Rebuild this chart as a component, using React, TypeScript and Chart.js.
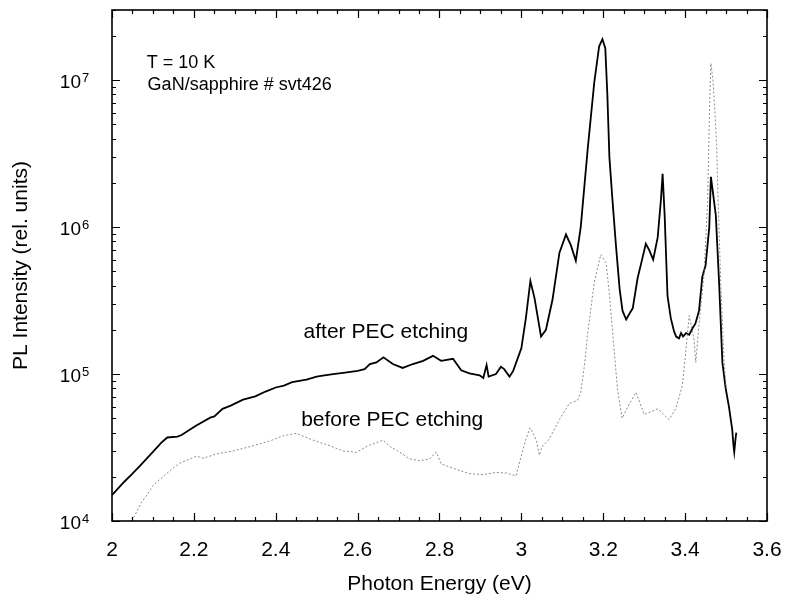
import React, { useEffect, useRef } from 'react';
import { Chart, registerables } from 'chart.js';

Chart.register(...registerables);

// ---- data ----
const afterEnergy = [
  2.0, 2.03, 2.05, 2.07, 2.1, 2.12, 2.135, 2.16, 2.17, 2.185, 2.205, 2.24, 2.25, 2.27, 2.29, 2.32,
  2.35, 2.375, 2.4, 2.42, 2.44, 2.475, 2.5, 2.515, 2.54, 2.565, 2.6, 2.617, 2.63, 2.646, 2.663,
  2.686, 2.71, 2.735, 2.76, 2.784, 2.804, 2.833, 2.853, 2.873, 2.898, 2.907, 2.915, 2.92, 2.938,
  2.95, 2.958, 2.971, 2.98, 3.0, 3.011, 3.022, 3.032, 3.048, 3.06, 3.076, 3.093, 3.109, 3.121,
  3.133, 3.145, 3.162, 3.178, 3.19, 3.198, 3.205, 3.21, 3.215, 3.222, 3.231, 3.24, 3.247, 3.256,
  3.265, 3.272, 3.284, 3.296, 3.304, 3.312, 3.322, 3.333, 3.341, 3.345, 3.35, 3.357, 3.365, 3.373,
  3.378, 3.385, 3.39, 3.395, 3.402, 3.41, 3.418, 3.425, 3.434, 3.442, 3.45, 3.459, 3.463, 3.467,
  3.475, 3.483, 3.491, 3.499, 3.507, 3.512, 3.515, 3.518, 3.52, 3.523, 3.525,
];
const afterIntensity = [
  1.5e4, 1.85e4, 2.1e4, 2.4e4, 2.95e4, 3.4e4, 3.7e4, 3.75e4, 3.85e4, 4.1e4, 4.45e4, 5.05e4, 5.15e4,
  5.8e4, 6.1e4, 6.7e4, 7.05e4, 7.6e4, 8.1e4, 8.35e4, 8.8e4, 9.15e4, 9.6e4, 9.75e4, 1.0e5, 1.02e5,
  1.05e5, 1.08e5, 1.17e5, 1.2e5, 1.3e5, 1.17e5, 1.1e5, 1.17e5, 1.23e5, 1.33e5, 1.23e5, 1.27e5,
  1.06e5, 1.01e5, 9.8e4, 9.4e4, 1.15e5, 9.6e4, 1.0e5, 1.12e5, 1.08e5, 9.6e4, 1.05e5, 1.5e5, 2.4e5,
  4.3e5, 3.3e5, 1.8e5, 2.0e5, 3.2e5, 6.7e5, 8.9e5, 7.5e5, 5.9e5, 1.0e6, 3.4e6, 9.6e6, 1.7e7, 1.9e7,
  1.65e7, 8.0e6, 3.0e6, 1.6e6, 7.5e5, 3.8e5, 2.7e5, 2.35e5, 2.6e5, 2.8e5, 4.5e5, 6.2e5, 7.7e5, 7.0e5,
  6.0e5, 8.5e5, 1.55e6, 2.3e6, 1.2e6, 3.4e5, 2.4e5, 1.95e5, 1.8e5, 1.75e5, 1.9e5, 1.8e5, 1.9e5,
  1.85e5, 2.05e5, 2.2e5, 2.7e5, 4.6e5, 5.5e5, 1.0e6, 2.2e6, 1.8e6, 1.2e6, 4.2e5, 1.2e5, 8.0e4, 6.0e4,
  4.8e4, 4.2e4, 3.3e4, 2.95e4, 3.6e4, 4.0e4,
];
const beforeEnergy = [
  2.048, 2.06, 2.072, 2.085, 2.1, 2.115, 2.129, 2.15, 2.166, 2.19, 2.207, 2.223, 2.255, 2.296, 2.345,
  2.385, 2.418, 2.45, 2.47, 2.491, 2.532, 2.564, 2.597, 2.625, 2.645, 2.662, 2.68, 2.698, 2.727,
  2.751, 2.776, 2.792, 2.804, 2.84, 2.873, 2.906, 2.938, 2.963, 2.987, 3.003, 3.011, 3.021, 3.03,
  3.037, 3.044, 3.05, 3.068, 3.093, 3.117, 3.137, 3.145, 3.155, 3.162, 3.178, 3.194, 3.207, 3.215,
  3.223, 3.235, 3.246, 3.263, 3.28, 3.3, 3.333, 3.361, 3.377, 3.393, 3.402, 3.41, 3.422, 3.426,
  3.434, 3.446, 3.455, 3.46, 3.463, 3.468, 3.473, 3.477, 3.48, 3.487, 3.495, 3.5,
];
const beforeIntensity = [
  1.0e4, 1.15e4, 1.34e4, 1.5e4, 1.74e4, 1.9e4, 2.05e4, 2.3e4, 2.48e4, 2.64e4, 2.76e4, 2.67e4,
  2.86e4, 3.0e4, 3.25e4, 3.5e4, 3.8e4, 3.95e4, 3.75e4, 3.55e4, 3.25e4, 3.0e4, 2.93e4, 3.25e4, 3.4e4,
  3.55e4, 3.2e4, 3.0e4, 2.65e4, 2.57e4, 2.64e4, 2.95e4, 2.45e4, 2.25e4, 2.1e4, 2.07e4, 2.14e4,
  2.12e4, 2.03e4, 3.0e4, 3.6e4, 4.3e4, 3.9e4, 3.5e4, 2.8e4, 3.2e4, 3.6e4, 4.9e4, 6.3e4, 6.6e4,
  7.5e4, 1.2e5, 1.9e5, 4.2e5, 6.5e5, 5.7e5, 3.5e5, 1.9e5, 7.8e4, 5.0e4, 6.2e4, 7.5e4, 5.3e4, 5.8e4,
  4.9e4, 5.8e4, 8.3e4, 1.45e5, 2.5e5, 1.7e5, 1.2e5, 2.2e5, 4.7e5, 1.5e6, 7.0e6, 1.3e7, 1.0e7, 5.9e6,
  3.6e6, 1.7e6, 4.2e5, 1.25e5, 8.0e4,
];
const xTickLabels = ['2', '2.2', '2.4', '2.6', '2.8', '3', '3.2', '3.4', '3.6'];
const yDecadeExponents = [4, 5, 6, 7];
const xAxisTitle = 'Photon Energy (eV)';
const yAxisTitle = 'PL Intensity (rel. units)';
const infoLines = ['T = 10 K', 'GaN/sapphire # svt426'];
const curveLabels = ['after PEC etching', 'before PEC etching'];

const FONT = '"Liberation Sans", Arial, Helvetica, sans-serif';

const framePlugin = {
  id: 'frameTicks',
  afterDraw(chart: any) {
    const { ctx, chartArea: a, scales } = chart;
    const xs = scales.x;
    const ys = scales.y;
    ctx.save();
    ctx.strokeStyle = '#000';
    ctx.lineWidth = 1.6;
    ctx.strokeRect(a.left, a.top, a.right - a.left, a.bottom - a.top);

    // inward ticks
    ctx.lineWidth = 1.2;
    ctx.beginPath();
    for (let i = 0; i <= 32; i++) {
      const v = xs.min + i * 0.05;
      const px = Math.round(xs.getPixelForValue(v)) + 0.5;
      const len = i % 4 === 0 ? 8 : 4;
      ctx.moveTo(px, a.bottom);
      ctx.lineTo(px, a.bottom - len);
      ctx.moveTo(px, a.top);
      ctx.lineTo(px, a.top + len);
    }
    for (let d = 4; d <= 7; d++) {
      for (let m = 1; m <= 9; m++) {
        const v = m * Math.pow(10, d);
        if (v > ys.max) break;
        const py = Math.round(ys.getPixelForValue(v)) + 0.5;
        const len = m === 1 ? 8 : 4;
        ctx.moveTo(a.left, py);
        ctx.lineTo(a.left + len, py);
        ctx.moveTo(a.right, py);
        ctx.lineTo(a.right - len, py);
      }
    }
    ctx.stroke();

    // y tick labels with superscript exponent
    ctx.fillStyle = '#000';
    for (const e of yDecadeExponents) {
      const py = ys.getPixelForValue(Math.pow(10, e));
      ctx.font = `19px ${FONT}`;
      ctx.textAlign = 'right';
      ctx.textBaseline = 'middle';
      ctx.fillText('10', 81, py + 3);
      ctx.font = `13px ${FONT}`;
      ctx.textAlign = 'left';
      ctx.textBaseline = 'alphabetic';
      ctx.fillText(String(e), 82, py + 2);
    }

    // annotations, positioned in data space
    ctx.textAlign = 'left';
    ctx.textBaseline = 'middle';
    ctx.font = `18px ${FONT}`;
    ctx.fillText(infoLines[0], xs.getPixelForValue(2.085), ys.getPixelForValue(1.31e7));
    ctx.fillText(infoLines[1], xs.getPixelForValue(2.087), ys.getPixelForValue(9.3e6));
    ctx.font = `21px ${FONT}`;
    ctx.fillText(curveLabels[0], xs.getPixelForValue(2.468), ys.getPixelForValue(1.93e5));
    ctx.fillText(curveLabels[1], xs.getPixelForValue(2.462), ys.getPixelForValue(4.86e4));
    ctx.restore();
  },
};

export default function App() {
  const ref = useRef<HTMLCanvasElement | null>(null);
  useEffect(() => {
    if (!ref.current) return;
    const chart = new Chart(ref.current, {
      type: 'line',
      data: {
        datasets: [
          {
            label: curveLabels[1],
            data: beforeEnergy.map((x, i) => ({ x, y: beforeIntensity[i] })),
            borderColor: 'rgba(120,120,120,0.85)',
            borderWidth: 1,
            borderDash: [2, 2],
            pointRadius: 0,
            tension: 0,
          },
          {
            label: curveLabels[0],
            data: afterEnergy.map((x, i) => ({ x, y: afterIntensity[i] })),
            borderColor: '#000',
            borderWidth: 1.8,
            pointRadius: 0,
            tension: 0,
          },
        ],
      },
      options: {
        responsive: false,
        animation: false,
        layout: { padding: { top: 10, right: 19, bottom: 0, left: 0 } },
        plugins: { legend: { display: false }, tooltip: { enabled: false } },
        scales: {
          x: {
            type: 'linear',
            min: 2,
            max: 3.6,
            grid: { display: false, drawTicks: false },
            border: { display: false },
            ticks: {
              stepSize: 0.2,
              padding: 17,
              color: '#000',
              font: { family: FONT, size: 21 },
              callback: (v: any) => {
                const idx = Math.round((Number(v) - 2) / 0.2);
                return xTickLabels[idx] ?? '';
              },
            },
            title: {
              display: true,
              text: xAxisTitle,
              color: '#000',
              font: { family: FONT, size: 21 },
              padding: { top: 0, bottom: 5 },
            },
            afterFit: (s: any) => {
              s.height = 81;
              s.paddingLeft = 0;
              s.paddingRight = 0;
            },
          },
          y: {
            type: 'logarithmic',
            min: 1e4,
            max: 3e7,
            grid: { display: false, drawTicks: false },
            border: { display: false },
            ticks: { display: false },
            title: {
              display: true,
              text: yAxisTitle,
              color: '#000',
              font: { family: FONT, size: 21 },
              padding: { top: 9, bottom: 0 },
            },
            afterFit: (s: any) => {
              s.width = 112;
              s.paddingTop = 0;
              s.paddingBottom = 0;
            },
          },
        },
      },
      plugins: [framePlugin],
    });
    return () => chart.destroy();
  }, []);
  return (
    <div style={{ position: 'fixed', left: 0, top: 0, width: 786, height: 602, background: '#fff' }}>
      <canvas ref={ref} width={786} height={602} style={{ display: 'block' }} />
    </div>
  );
}
